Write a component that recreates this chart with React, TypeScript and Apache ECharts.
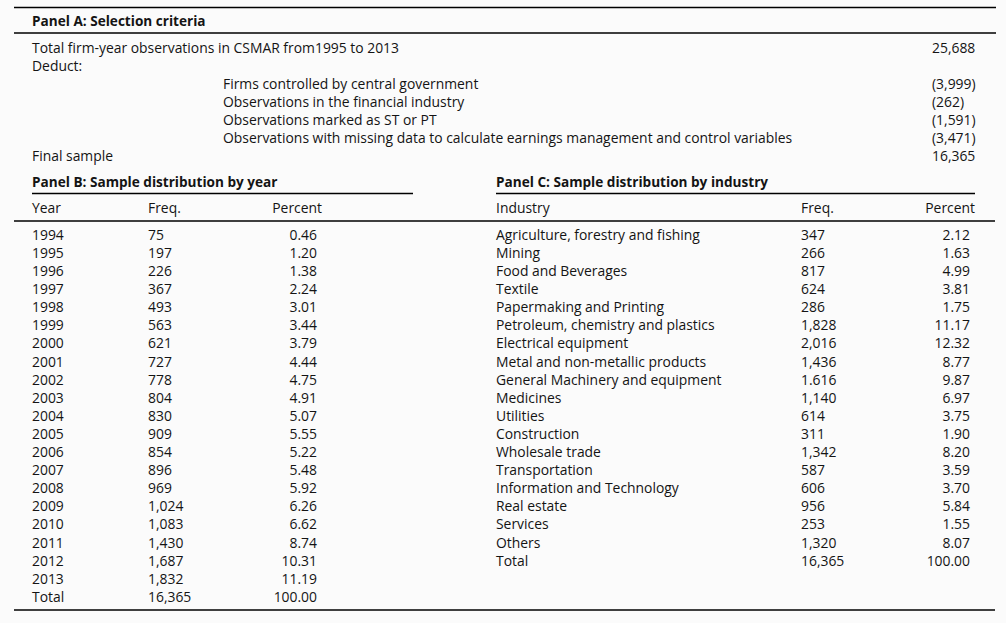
import React, { useEffect, useRef } from "react";
import * as echarts from "echarts";

// ---- Data ----
const panelATitle = "Panel A: Selection criteria";
const panelALabels = [
  "Total firm-year observations in CSMAR from1995 to 2013",
  "Deduct:",
  "Firms controlled by central government",
  "Observations in the financial industry",
  "Observations marked as ST or PT",
  "Observations with missing data to calculate earnings management and control variables",
  "Final sample",
];
const panelAIndented = [false, false, true, true, true, true, false];
const panelAValues = ["25,688", "", "(3,999)", "(262)", "(1,591)", "(3,471)", "16,365"];

const panelBTitle = "Panel B: Sample distribution by year";
const panelBHeaders = ["Year", "Freq.", "Percent"];
const years = [
  "1994", "1995", "1996", "1997", "1998", "1999", "2000", "2001", "2002", "2003",
  "2004", "2005", "2006", "2007", "2008", "2009", "2010", "2011", "2012", "2013", "Total",
];
const yearFreq = [
  "75", "197", "226", "367", "493", "563", "621", "727", "778", "804",
  "830", "909", "854", "896", "969", "1,024", "1,083", "1,430", "1,687", "1,832", "16,365",
];
const yearPct = [
  "0.46", "1.20", "1.38", "2.24", "3.01", "3.44", "3.79", "4.44", "4.75", "4.91",
  "5.07", "5.55", "5.22", "5.48", "5.92", "6.26", "6.62", "8.74", "10.31", "11.19", "100.00",
];

const panelCTitle = "Panel C: Sample distribution by industry";
const panelCHeaders = ["Industry", "Freq.", "Percent"];
const industries = [
  "Agriculture, forestry and fishing",
  "Mining",
  "Food and Beverages",
  "Textile",
  "Papermaking and Printing",
  "Petroleum, chemistry and plastics",
  "Electrical equipment",
  "Metal and non-metallic products",
  "General Machinery and equipment",
  "Medicines",
  "Utilities",
  "Construction",
  "Wholesale trade",
  "Transportation",
  "Information and Technology",
  "Real estate",
  "Services",
  "Others",
  "Total",
];
const industryFreq = [
  "347", "266", "817", "624", "286", "1,828", "2,016", "1,436", "1.616", "1,140",
  "614", "311", "1,342", "587", "606", "956", "253", "1,320", "16,365",
];
const industryPct = [
  "2.12", "1.63", "4.99", "3.81", "1.75", "11.17", "12.32", "8.77", "9.87", "6.97",
  "3.75", "1.90", "8.20", "3.59", "3.70", "5.84", "1.55", "8.07", "100.00",
];

// ---- Layout / style ----
const W = 1006;
const H = 623;
const FONT_FAMILY = "'Open Sans', 'Noto Sans', sans-serif";
const FS = 13.9;
const FS_BOLD = 13.6;
const TEXT_COLOR = "#141414";

function txt(text: string, x: number, y: number, align = "left", bold = false) {
  return {
    type: "text",
    silent: true,
    style: {
      text,
      x,
      y,
      fill: TEXT_COLOR,
      fontFamily: FONT_FAMILY,
      fontSize: bold ? FS_BOLD : FS,
      fontWeight: bold ? "bold" : "normal",
      textAlign: align,
      align,
      textVerticalAlign: "middle",
      verticalAlign: "middle",
    },
  };
}

function hline(x1: number, x2: number, y: number, w = 1.6) {
  return {
    type: "line",
    silent: true,
    shape: { x1, y1: y, x2, y2: y },
    style: { stroke: "#000", lineWidth: w },
  };
}

function buildGraphics() {
  const els: any[] = [];
  // Panel A
  els.push(hline(14, 996, 7.5));
  els.push(txt(panelATitle, 32, 20.5, "left", true));
  els.push(hline(14, 996, 33));
  const aTop = 47.3;
  const aStep = 18;
  panelALabels.forEach((label, i) => {
    const y = aTop + i * aStep;
    els.push(txt(label, panelAIndented[i] ? 223 : 32, y));
    if (panelAValues[i]) els.push(txt(panelAValues[i], 932, y));
  });

  // Panel B & C titles
  els.push(txt(panelBTitle, 32, 181.3, "left", true));
  els.push(hline(32, 413, 193.5));
  els.push(txt(panelCTitle, 496, 181.3, "left", true));
  els.push(hline(496, 975, 193.5));

  // headers
  const hy = 207.3;
  els.push(txt(panelBHeaders[0], 32, hy));
  els.push(txt(panelBHeaders[1], 148, hy));
  els.push(txt(panelBHeaders[2], 322, hy, "right"));
  els.push(txt(panelCHeaders[0], 496, hy));
  els.push(txt(panelCHeaders[1], 801, hy));
  els.push(txt(panelCHeaders[2], 975, hy, "right"));
  els.push(hline(14, 995, 221));

  const rTop = 234.3;
  const rStep = 18.1;
  years.forEach((yr, i) => {
    const y = rTop + i * rStep;
    els.push(txt(yr, 32, y));
    els.push(txt(yearFreq[i], 148, y));
    els.push(txt(yearPct[i], 317, y, "right"));
  });
  industries.forEach((ind, i) => {
    const y = rTop + i * rStep;
    els.push(txt(ind, 496, y));
    els.push(txt(industryFreq[i], 801, y));
    els.push(txt(industryPct[i], 970, y, "right"));
  });

  els.push(hline(14, 995, 610));
  return els;
}

export default function App() {
  const ref = useRef<HTMLDivElement>(null);
  useEffect(() => {
    if (!ref.current) return;
    const chart = echarts.init(ref.current, null, { renderer: "svg" });
    chart.setOption({
      animation: false,
      backgroundColor: "#fbfbfb",
      graphic: { elements: buildGraphics() },
    });
    return () => chart.dispose();
  }, []);
  return (
    <div
      ref={ref}
      style={{ position: "absolute", left: 0, top: 0, width: W, height: H }}
    />
  );
}
